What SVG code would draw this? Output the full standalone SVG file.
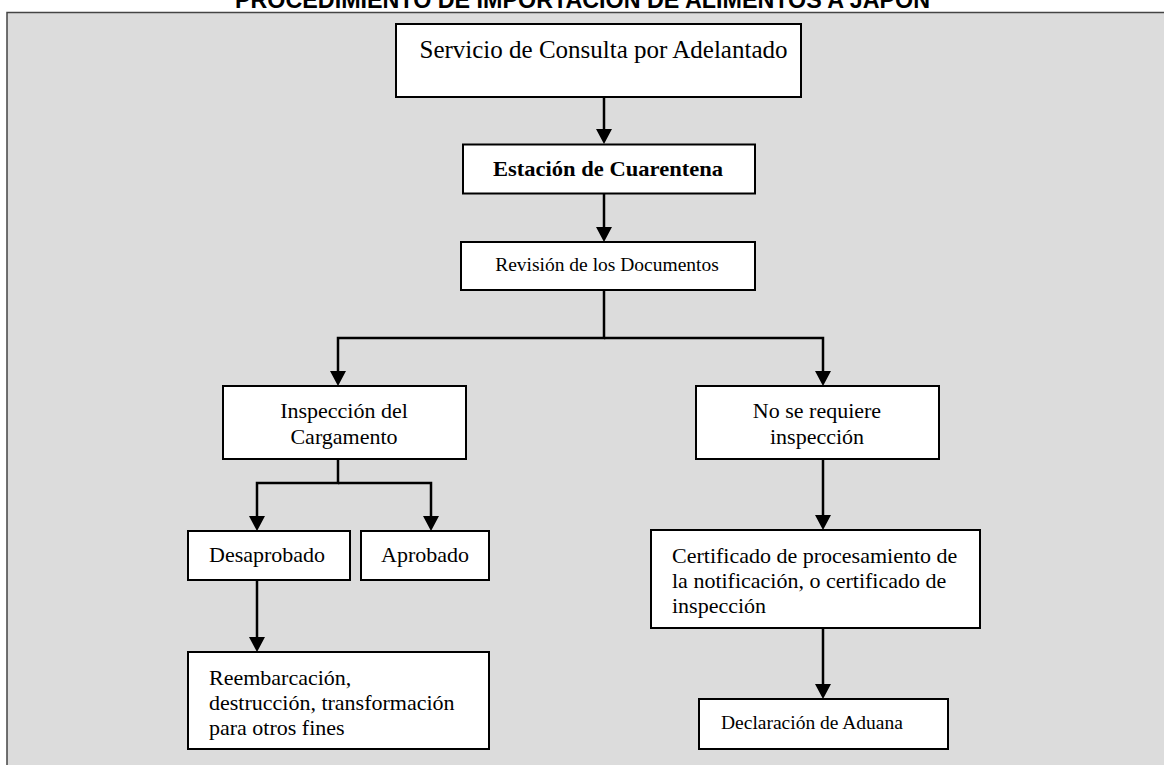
<svg xmlns="http://www.w3.org/2000/svg" width="1164" height="765" viewBox="0 0 1164 765">
<defs>
<style>
.box{fill:#fff;stroke:#000;stroke-width:2}
.t{font-family:"Liberation Serif","Times New Roman",serif;fill:#000}
.c{fill:none;stroke:#000;stroke-width:2.5}
</style>
<marker id="ah" markerUnits="userSpaceOnUse" markerWidth="16" markerHeight="16" viewBox="0 0 16 16" refX="7" refY="8" orient="auto">
<path d="M0,0 L15,8 L0,16 z" fill="#000"/>
</marker>
</defs>
<rect x="0" y="0" width="1164" height="765" fill="#fff"/>
<text x="235" y="8" font-family="'Liberation Sans',Arial,sans-serif" font-weight="bold" font-size="23" textLength="695" lengthAdjust="spacingAndGlyphs">PROCEDIMIENTO DE IMPORTACIÓN DE ALIMENTOS A JAPÓN</text>
<rect x="7" y="12.5" width="1170" height="760" fill="#dcdcdc" stroke="#444" stroke-width="1.5"/>
<g id="connectors">
<path class="c" d="M604,97 V136" marker-end="url(#ah)"/>
<path class="c" d="M604,193 V234" marker-end="url(#ah)"/>
<path class="c" d="M604,290 V338 H338 V378" marker-end="url(#ah)"/>
<path class="c" d="M604,338 H823 V378" marker-end="url(#ah)"/>
<path class="c" d="M338,459 V483 H257 V523" marker-end="url(#ah)"/>
<path class="c" d="M338,483 H431 V523" marker-end="url(#ah)"/>
<path class="c" d="M257,580 V644" marker-end="url(#ah)"/>
<path class="c" d="M823,459 V522" marker-end="url(#ah)"/>
<path class="c" d="M823,628 V691" marker-end="url(#ah)"/>
</g>
<g id="n1">
<rect class="box" x="396" y="24" width="405" height="73"/>
<text class="t" x="603.5" y="58" font-size="25" text-anchor="middle">Servicio de Consulta por Adelantado</text>
</g>
<g id="n2">
<rect class="box" x="463" y="144.5" width="292" height="49"/>
<text class="t" x="608" y="176" font-size="22" font-weight="bold" text-anchor="middle" textLength="230" lengthAdjust="spacingAndGlyphs">Estación de Cuarentena</text>
</g>
<g id="n3">
<rect class="box" x="461" y="242" width="294" height="48"/>
<text class="t" x="607" y="271" font-size="19.5" text-anchor="middle">Revisión de los Documentos</text>
</g>
<g id="n4">
<rect class="box" x="223" y="386" width="243" height="73"/>
<text class="t" x="344" y="418" font-size="22" text-anchor="middle">Inspección del</text>
<text class="t" x="344" y="443.5" font-size="22" text-anchor="middle">Cargamento</text>
</g>
<g id="n5">
<rect class="box" x="696" y="386" width="243" height="73"/>
<text class="t" x="817" y="418" font-size="22" text-anchor="middle">No se requiere</text>
<text class="t" x="817" y="443.5" font-size="22" text-anchor="middle">inspección</text>
</g>
<g id="n6">
<rect class="box" x="188" y="531" width="162" height="49"/>
<text class="t" x="209" y="562" font-size="22">Desaprobado</text>
</g>
<g id="n7">
<rect class="box" x="361" y="531" width="128" height="49"/>
<text class="t" x="381" y="562" font-size="22">Aprobado</text>
</g>
<g id="n8">
<rect class="box" x="188" y="652" width="301" height="97"/>
<text class="t" x="209" y="685" font-size="22">Reembarcación,</text>
<text class="t" x="209" y="709.5" font-size="22">destrucción, transformación</text>
<text class="t" x="209" y="735" font-size="22">para otros fines</text>
</g>
<g id="n9">
<rect class="box" x="651" y="530" width="329" height="98"/>
<text class="t" x="672" y="563" font-size="22">Certificado de procesamiento de</text>
<text class="t" x="672" y="587.5" font-size="22">la notificación, o certificado de</text>
<text class="t" x="672" y="613" font-size="22">inspección</text>
</g>
<g id="n10">
<rect class="box" x="699" y="699" width="249" height="50"/>
<text class="t" x="721" y="729" font-size="19.5">Declaración de Aduana</text>
</g>
</svg>
